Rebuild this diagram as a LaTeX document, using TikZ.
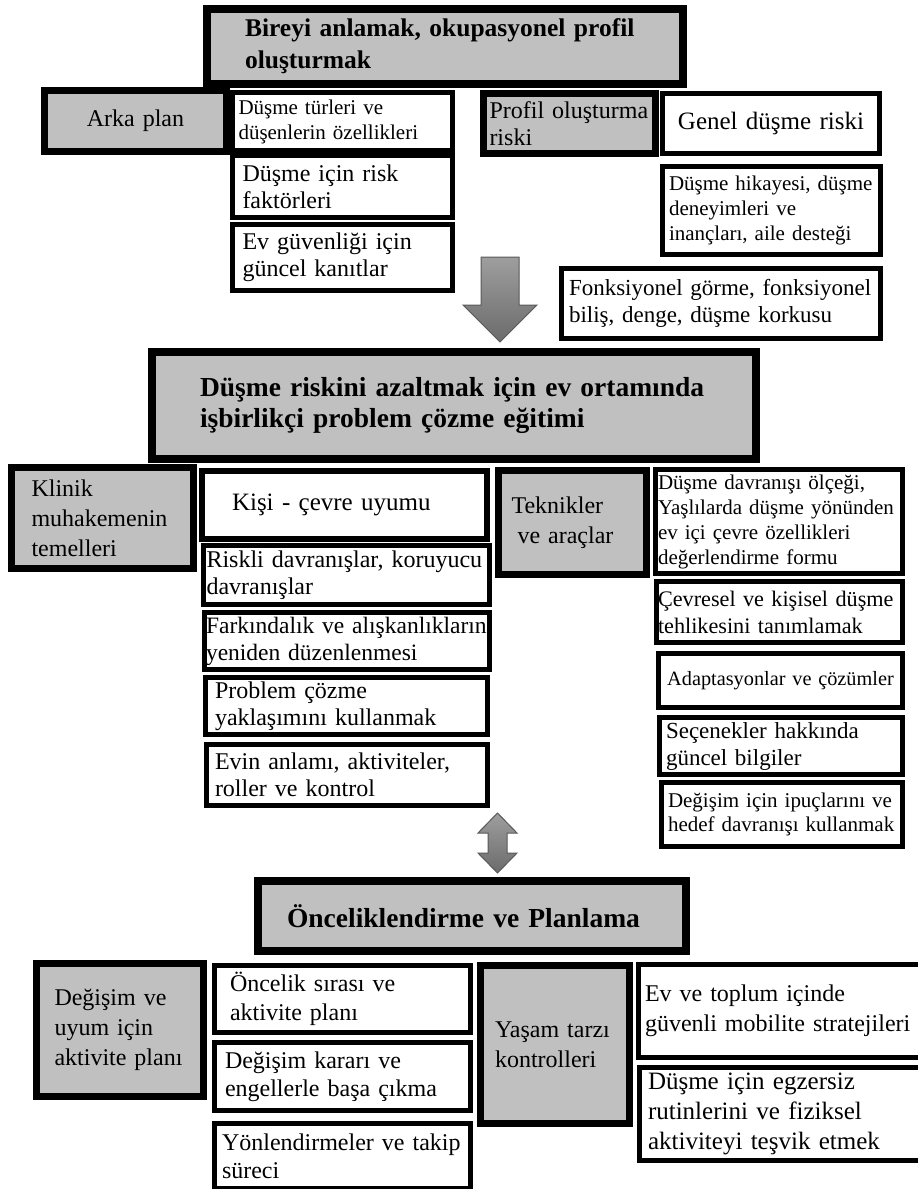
\documentclass[tikz,border=0pt]{standalone}
\usepackage{fontspec}
\setmainfont{Liberation Serif}
\usetikzlibrary{positioning}
\definecolor{acikgri}{RGB}{192,192,192}

\begin{document}
\begin{tikzpicture}[x=1pt,y=-1pt,node distance=0pt,
baslik/.style={draw,line width=8pt,fill=acikgri,align=left,inner ysep=0pt,font=\fontsize{27.5}{31}\selectfont\bfseries},
etiket/.style={draw,line width=7pt,fill=acikgri,align=left,inner ysep=0pt,font=\fontsize{24}{30}\selectfont},
madde/.style={draw,line width=5pt,fill=white,align=left,inner ysep=0pt,font=\fontsize{24}{28}\selectfont},
kucuk/.style={font=\fontsize{21}{25}\selectfont},
blokok/.style={draw=black!65,line width=1pt,top color=black!38,bottom color=black!58}
]
\useasboundingbox (0,0) rectangle (918,1189);
\node[baslik,anchor=north west,inner xsep=38pt,text width=400pt,minimum height=75pt,font=\fontsize{25.5}{32}\selectfont\bfseries](bireyi) at (203,5){Bireyi anlamak, okupasyonel profil\\oluşturmak};
%--
\node[etiket,anchor=north west,align=center,inner xsep=10pt,text width=162pt,minimum height=61pt](arka) at (41,87){Arka plan};
\node[madde,kucuk,anchor=north west,inner xsep=6pt,text width=208pt,minimum height=58pt](turler) at (230,90){Düşme türleri ve\\düşenlerin özellikleri};
\node[madde,below=0pt of turler.south west,anchor=north west,inner xsep=10pt,text width=200pt,minimum height=62pt,font=\fontsize{24}{27}\selectfont](risk){Düşme için risk\\faktörleri};
\node[madde,below=2pt of risk.south west,anchor=north west,inner xsep=10pt,text width=200pt,minimum height=66pt,font=\fontsize{24}{27}\selectfont](kanit){Ev güvenliği için\\güncel kanıtlar};
%--
\node[etiket,anchor=north west,inner xsep=6pt,text width=160pt,minimum height=60pt,font=\fontsize{24}{27}\selectfont](profil) at (480,90){Profil oluşturma\\riski};
\node[madde,right=1pt of profil.east,anchor=west,align=center,inner xsep=10pt,text width=197pt,minimum height=60pt,font=\fontsize{25}{30}\selectfont](genel){Genel düşme riski};
\node[madde,kucuk,below=8pt of genel.south west,anchor=north west,inner xsep=6.5pt,text width=205pt,minimum height=88pt](hikaye){Düşme hikayesi, düşme\\deneyimleri ve\\inançları, aile desteği};
\node[madde,below=9pt of hikaye.south east,anchor=north east,inner xsep=7.5pt,text width=304pt,minimum height=70pt,font=\fontsize{23}{27}\selectfont](fonk){Fonksiyonel görme, fonksiyonel\\biliş, denge, düşme korkusu};
%--
\coordinate (ok1) at (500,342);
\draw[blokok] (ok1) -- ++(37,-37) -- ++(-18,0) -- ++(0,-48) -- ++(-38,0) -- ++(0,48) -- ++(-18,0) -- cycle;
%/////////////////////////////////////////////////////////
\node[baslik,anchor=north west,inner xsep=48pt,text width=508pt,minimum height=107pt](dusme) at (148,348){Düşme riskini azaltmak için ev ortamında\\işbirlikçi problem çözme eğitimi};
%--
\node[etiket,anchor=north west,inner xsep=20pt,text width=142pt,minimum height=101pt](klinik) at (8,464){Klinik\\muhakemenin\\temelleri};
\node[madde,line width=6pt,anchor=north west,inner xsep=30pt,text width=225pt,minimum height=68pt,font=\fontsize{25}{30}\selectfont](kisi) at (199,468){Kişi - çevre uyumu};
\node[madde,below=1pt of kisi.south west,anchor=north west,xshift=2pt,inner xsep=3pt,text width=280pt,minimum height=59pt,font=\fontsize{24}{27}\selectfont](riskli){Riskli davranışlar, koruyucu\\davranışlar};
\node[madde,below=3pt of riskli.south west,anchor=north west,xshift=1pt,inner xsep=1.5pt,text width=282pt,minimum height=57pt,font=\fontsize{23.5}{27}\selectfont](fark){Farkındalık ve alışkanlıkların\\yeniden düzenlenmesi};
\node[madde,below=3pt of fark.south west,anchor=north west,xshift=1pt,inner xsep=9.5pt,text width=263pt,minimum height=57pt,font=\fontsize{24}{27}\selectfont](probcoz){Problem çözme\\yaklaşımını kullanmak};
\node[madde,below=5pt of probcoz.south west,anchor=north west,xshift=1pt,inner xsep=8.5pt,text width=264pt,minimum height=61pt,font=\fontsize{24}{27}\selectfont](evin){Evin anlamı, aktiviteler,\\roller ve kontrol};
%--
\node[etiket,anchor=north west,inner xsep=13pt,text width=122pt,minimum height=104pt](teknik) at (495,467){Teknikler\\\hspace*{6pt}ve araçlar};
\node[madde,kucuk,right=3pt of teknik.north east,anchor=north west,inner xsep=2.5pt,text width=242pt,minimum height=104pt](davr){Düşme davranışı ölçeği,\\Yaşlılarda düşme yönünden\\ev içi çevre özellikleri\\değerlendirme formu};
\node[madde,below=3pt of davr.south west,anchor=north west,xshift=1pt,inner xsep=1.5pt,text width=243pt,minimum height=61pt,font=\fontsize{22.2}{27}\selectfont](cevre){Çevresel ve kişisel düşme\\tehlikesini tanımlamak};
\node[madde,below=6pt of cevre.south west,anchor=north west,xshift=2pt,align=center,inner xsep=4pt,text width=236pt,minimum height=54pt,font=\fontsize{20.3}{25}\selectfont](adapt){Adaptasyonlar ve çözümler};
\node[madde,below=5pt of adapt.south west,anchor=north west,xshift=1pt,inner xsep=6.5pt,text width=230pt,minimum height=57pt,font=\fontsize{23}{27}\selectfont](secen){Seçenekler hakkında\\güncel bilgiler};
\node[madde,below=3pt of secen.south west,anchor=north west,xshift=2pt,inner xsep=6.5pt,text width=228pt,minimum height=64pt,font=\fontsize{21}{24.5}\selectfont](ipucu){Değişim için ipuçlarını ve\\hedef davranışı kullanmak};
%--
\coordinate (ok2) at (497.5,843);
\draw[blokok] (ok2) ++(0,-30) -- ++(19.5,20) -- ++(-10,0) -- ++(0,20) -- ++(10,0) -- ++(-19.5,20) -- ++(-19.5,-20) -- ++(10,0) -- ++(0,-20) -- ++(-10,0) -- cycle;
%/////////////////////////////////////////////////////////
\node[baslik,anchor=north west,inner xsep=29pt,text width=370pt,minimum height=70pt](planlama) at (254,877){Önceliklendirme ve Planlama};
%--
\node[etiket,anchor=north west,inner xsep=18pt,text width=131pt,minimum height=133pt](degisim) at (33,960){Değişim ve\\uyum için\\aktivite planı};
\node[madde,anchor=north west,inner xsep=15.5pt,text width=225pt,minimum height=67pt,font=\fontsize{24}{29}\selectfont](sira) at (212,963){Öncelik sırası ve\\aktivite planı};
\node[madde,below=5pt of sira.south west,anchor=north west,inner xsep=10.5pt,text width=235pt,minimum height=68pt](karar){Değişim kararı ve\\engellerle başa çıkma};
\node[madde,below=8pt of karar.south west,anchor=north west,inner xsep=7.5pt,text width=241pt,minimum height=65pt](takip){Yönlendirmeler ve takip\\süreci};
%--
\node[etiket,anchor=north west,inner xsep=14.5pt,text width=120pt,minimum height=158pt](yasam) at (477,962){Yaşam tarzı\\kontrolleri};
\node[madde,right=3pt of yasam.north east,anchor=north west,inner xsep=6.5pt,text width=300pt,minimum height=93pt,font=\fontsize{24}{30}\selectfont](mobil){Ev ve toplum içinde\\güvenli mobilite stratejileri};
\node[madde,below=5pt of mobil.south west,anchor=north west,xshift=1pt,inner xsep=8.5pt,text width=295pt,minimum height=93pt,font=\fontsize{25}{30}\selectfont](egzer){Düşme için egzersiz\\rutinlerini ve fiziksel\\aktiviteyi teşvik etmek};
\end{tikzpicture}
\end{document}
